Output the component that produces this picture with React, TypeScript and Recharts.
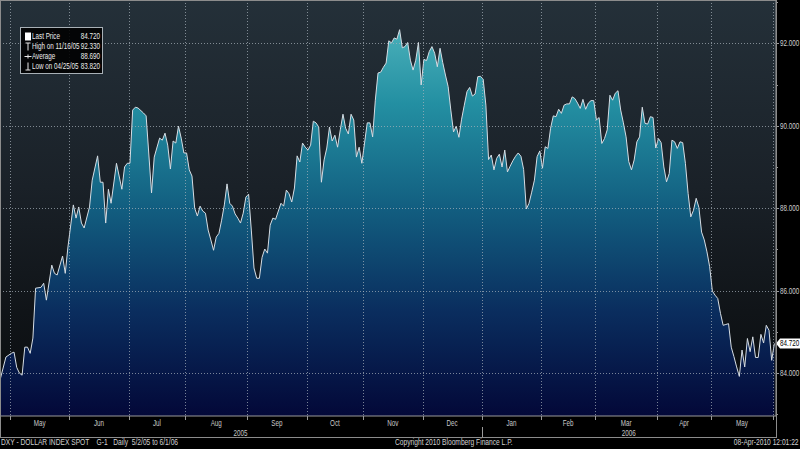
import React from "react";
import { ComposedChart, Area, XAxis, YAxis } from "recharts";

// ---- data (trading-day index from 2005-05-02 = 0) ----
const days = [
  -4, -2, 0, 1, 2, 3, 4, 5, 6, 7, 8, 9, 11, 12, 13, 15, 16, 17, 19, 20, 21, 23, 24, 25, 26, 27, 29, 30, 32, 33, 34, 35, 36,
  37, 39, 41, 42, 43, 44, 45, 46, 47, 49, 50, 52, 53, 55, 56, 57, 58, 59, 60, 61, 62, 63, 64, 65, 66, 67, 68, 69, 70, 71,
  72, 73, 74, 75, 76, 77, 78, 79, 80, 81, 82, 83, 84, 85, 86, 87, 88, 89, 90, 91, 92, 93, 94, 95, 96, 97, 98, 100, 101,
  102, 103, 104, 105, 106, 107, 108, 109, 110, 111, 112, 113, 114, 115, 116, 117, 118, 119, 120, 121, 122, 123, 124,
  125, 126, 127, 128, 129, 130, 131, 132, 133, 134, 135, 136, 137, 138, 139, 140, 141, 142, 143, 144, 145, 146, 147,
  148, 149, 150, 151, 152, 153, 154, 155, 156, 157, 158, 159, 160, 161, 162, 163, 164, 165, 166, 167, 168, 169, 170,
  171, 172, 173, 174, 175, 176, 177, 178, 179, 180, 181, 182, 183, 184, 185, 186, 187, 188, 189, 190, 191, 192, 193,
  194, 195, 196, 197, 198, 199, 200, 201, 202, 203, 204, 205, 206, 207, 208, 209, 210, 211, 212, 213, 214, 215, 216,
  217, 218, 219, 220, 221, 222, 223, 224, 225, 226, 227, 228, 229, 230, 231, 232, 233, 234, 235, 236, 237, 238, 239,
  240, 241, 242, 243, 244, 245, 246, 247, 248, 249, 250, 251, 252, 253, 254, 255, 256, 257, 258, 259, 260, 261, 262,
  263, 264, 265, 266, 267, 268, 269, 270, 271, 272, 273, 274, 275, 276, 277, 278, 279, 280, 281, 282, 283,
];

const prices = [
  83.88, 84.39, 84.48, 84.51, 84.14, 84.0, 83.95, 84.63, 84.63, 84.48, 84.85, 86.06, 86.08, 86.18, 85.77, 86.62, 86.42,
  86.38, 86.84, 86.42, 87.06, 88.08, 87.76, 88.03, 87.64, 87.52, 88.03, 88.68, 89.27, 88.63, 88.63, 87.64, 88.46, 88.12,
  89.09, 88.46, 89.0, 89.09, 89.09, 90.38, 90.45, 90.43, 90.31, 90.24, 88.37, 89.24, 89.7, 89.65, 89.82, 89.53, 88.95,
  89.63, 89.58, 89.99, 89.7, 89.34, 89.34, 88.93, 88.78, 88.0, 87.81, 88.05, 87.93, 87.88, 87.47, 87.23, 86.98, 87.3,
  87.39, 87.71, 88.08, 88.59, 88.12, 88.05, 87.86, 87.76, 87.64, 87.88, 88.27, 88.34, 87.47, 86.55, 86.3, 86.3, 86.81,
  87.01, 86.91, 87.59, 87.76, 87.73, 88.12, 88.05, 88.44, 88.35, 88.15, 88.49, 89.27, 89.12, 89.58, 89.48, 89.41, 89.53,
  90.11, 90.07, 89.97, 88.63, 89.17, 89.46, 89.97, 89.63, 89.77, 89.48, 89.9, 90.28, 89.94, 89.8, 90.28, 90.14, 89.24,
  89.48, 89.09, 89.58, 90.07, 90.07, 89.73, 90.62, 91.28, 91.3, 91.42, 91.52, 92.06, 92.01, 92.13, 92.1, 92.33, 91.89,
  91.92, 92.02, 91.59, 91.35, 91.59, 92.02, 90.99, 91.61, 91.58, 91.8, 91.92, 91.76, 91.43, 91.88, 91.53, 91.23, 90.95,
  90.38, 89.85, 89.99, 89.72, 90.16, 90.5, 90.83, 90.93, 90.72, 90.77, 91.19, 91.2, 91.13, 90.5, 89.18, 89.29, 88.93,
  89.21, 89.31, 89.0, 89.41, 88.88, 89.02, 89.15, 89.26, 89.34, 89.26, 88.94, 87.98, 88.12, 88.39, 88.68, 89.25, 89.39,
  88.97, 89.49, 89.45, 89.94, 90.24, 90.22, 90.4, 90.3, 90.5, 90.53, 90.53, 90.7, 90.66, 90.55, 90.42, 90.64, 90.4,
  90.55, 90.61, 90.61, 90.14, 90.2, 89.57, 89.69, 89.9, 90.74, 90.62, 90.79, 90.85, 90.38, 90.07, 89.73, 89.13, 88.93,
  89.17, 89.61, 89.73, 90.45, 90.06, 90.04, 90.22, 90.2, 89.46, 89.69, 89.59, 89.0, 88.64, 88.84, 89.65, 89.61, 89.45,
  89.61, 89.59, 89.09, 88.36, 87.79, 87.95, 88.24, 88.02, 87.42, 87.23, 86.94, 86.58, 85.99, 85.89, 85.81, 85.45, 85.16,
  85.18, 85.2, 84.63, 84.4, 84.15, 83.92, 84.56, 84.15, 84.84, 84.52, 84.88, 84.38, 84.38, 84.94, 84.73, 85.16, 85.04,
  84.31, 84.72,
];

// month boundaries (trading-day index) and labels
const monthStarts = [-0.5, 21.5, 43.5, 64.5, 87.5, 109.5, 130.5, 152.5, 174.5, 196.5, 216.5, 239.5, 259.5, 282.5];
const monthNames = ["May", "Jun", "Jul", "Aug", "Sep", "Oct", "Nov", "Dec", "Jan", "Feb", "Mar", "Apr", "May"];
const yearLabels = ["2005", "2006"];
const yearCenters = [85, 229];
const yearDivider = 174.5;

const priceTicks = [84, 86, 88, 90, 92];
const minorTicks = [83, 85, 87, 89, 91, 93];

const legendRows = [
  { icon: "last", label: "Last Price", value: "84.720" },
  { icon: "high", label: "High on 11/16/05", value: "92.330" },
  { icon: "avg", label: "Average", value: "88.690" },
  { icon: "low", label: "Low on 04/25/05", value: "83.820" },
];
const lastPrice = 84.72;

const footerLeft = "DXY - DOLLAR INDEX SPOT    G-1   Daily  5/2/05 to 6/1/06";
const footerCenter = "Copyright 2010 Bloomberg Finance L.P.";
const footerRight = "08-Apr-2010 12:01:22";

const X_DOMAIN: [number, number] = [-4.2, 283.6];
const Y_DOMAIN: [number, number] = [82.96, 93.05];

// layout
const CHART_W = 800;
const CHART_H = 449;
const Y_AXIS_W = 24;
const X_AXIS_H = [1, 11, 9];
const MARGIN = { top: 0, right: 0, bottom: 12, left: 0 };
const PLOT_W = CHART_W - Y_AXIS_W - MARGIN.left - MARGIN.right;
const PLOT_H = CHART_H - MARGIN.top - MARGIN.bottom - X_AXIS_H.reduce((a, b) => a + b, 0);

const FONT = "'Liberation Sans', Arial, sans-serif";
const SQUEEZE = 0.74;
const GRID = { stroke: "#aab4bc", opacity: 0.7, dash: "1 2" };

const data = days.map((d, i) => ({ day: d, price: prices[i] }));
const monthMids = monthStarts.slice(0, -1).map((s, i) => (s + monthStarts[i + 1]) / 2);

const NarrowText = ({ x, y, anchor = "start", size = 8, fill = "#d0d0d0", children }: any) => (
  <text
    transform={`translate(${x},${y}) scale(${SQUEEZE},1)`}
    textAnchor={anchor}
    fontSize={size}
    fill={fill}
    fontFamily={FONT}
  >
    {children}
  </text>
);

// month boundary: dotted vertical grid line across the plot + small tick below
const BoundaryTick = (props: any) => {
  const { x, y } = props;
  const cx = Math.round(x) + 0.5;
  return (
    <g>
      <line
        x1={cx}
        x2={cx}
        y1={y - PLOT_H}
        y2={y}
        stroke={GRID.stroke}
        strokeOpacity={GRID.opacity}
        strokeDasharray={GRID.dash}
      />
      <line x1={cx} x2={cx} y1={y} y2={y + 4} stroke="#9a9a9a" strokeWidth={1} />
    </g>
  );
};

const MonthTick = (props: any) => {
  const { x, y, index } = props;
  return (
    <NarrowText x={x} y={y + 9} anchor="middle" size={8.5} fill="#c8c8c8">
      {monthNames[index]}
    </NarrowText>
  );
};

const YearTick = (props: any) => {
  const { x, y, payload } = props;
  if (payload.value === yearDivider) {
    const cx = Math.round(x) + 0.5;
    return <line x1={cx} x2={cx} y1={y - 1} y2={y + 9} stroke="#9a9a9a" strokeWidth={1} />;
  }
  const idx = yearCenters.indexOf(payload.value);
  return (
    <NarrowText x={x} y={y + 7.5} anchor="middle" size={8.5} fill="#c8c8c8">
      {yearLabels[idx]}
    </NarrowText>
  );
};

const PriceTick = (props: any) => {
  const { x, y, payload } = props;
  const v = payload.value;
  if (v === lastPrice) {
    return (
      <g>
        <polygon
          points={`${x},${y} ${x + 4},${y - 5} ${x + 24},${y - 5} ${x + 24},${y + 5} ${x + 4},${y + 5}`}
          fill="#ffffff"
        />
        <NarrowText x={x + 4} y={y + 3} size={8.5} fill="#000">
          {v.toFixed(3)}
        </NarrowText>
      </g>
    );
  }
  const major = priceTicks.includes(v);
  const cy = Math.round(y) + 0.5;
  return (
    <g>
      {major && (
        <line
          x1={x - PLOT_W}
          x2={x}
          y1={cy}
          y2={cy}
          stroke={GRID.stroke}
          strokeOpacity={GRID.opacity}
          strokeDasharray={GRID.dash}
        />
      )}
      <line x1={x} x2={x + (major ? 3 : 2)} y1={cy} y2={cy} stroke="#9a9a9a" strokeWidth={1} />
      {major && (
        <NarrowText x={x + 4} y={y + 3} size={8.5} fill="#d0d0d0">
          {v.toFixed(3)}
        </NarrowText>
      )}
    </g>
  );
};

const LegendIcon = ({ kind }: { kind: string }) => {
  const c = "#e8e8e8";
  return (
    <svg width={8} height={9} style={{ display: "block" }}>
      {kind === "last" && <rect x={1} y={0.5} width={6} height={8} fill="#ffffff" />}
      {kind === "high" && (
        <g stroke={c} strokeWidth={1}>
          <line x1={1.5} x2={6.5} y1={1} y2={1} />
          <line x1={4} x2={4} y1={1} y2={8.5} />
        </g>
      )}
      {kind === "avg" && (
        <g stroke={c} strokeWidth={1}>
          <line x1={0.5} x2={7.5} y1={4.5} y2={4.5} />
          <line x1={4} x2={4} y1={2.5} y2={6.5} />
        </g>
      )}
      {kind === "low" && (
        <g stroke={c} strokeWidth={1}>
          <line x1={4} x2={4} y1={0.5} y2={8} />
          <line x1={1.5} x2={6.5} y1={8} y2={8} />
        </g>
      )}
    </svg>
  );
};

const squeezeSpan = (origin: string): React.CSSProperties => ({
  display: "inline-block",
  transform: `scaleX(${SQUEEZE})`,
  transformOrigin: origin,
  whiteSpace: "pre",
});

export default function App() {
  return (
    <div
      style={{
        position: "fixed",
        left: 0,
        top: 0,
        width: CHART_W,
        height: CHART_H,
        background: "#000",
        overflow: "hidden",
        fontFamily: FONT,
      }}
    >
      {/* plot background */}
      <div
        style={{
          position: "absolute",
          left: MARGIN.left,
          top: MARGIN.top,
          width: PLOT_W,
          height: PLOT_H,
          background: "linear-gradient(180deg, #243039 0%, #1a2128 45%, #101418 75%, #0a0c0e 100%)",
        }}
      />

      <div style={{ position: "absolute", left: 0, top: 0 }}>
        <ComposedChart width={CHART_W} height={CHART_H} data={data} margin={MARGIN}>
          <defs>
            <linearGradient id="areaGrad" gradientUnits="userSpaceOnUse" x1={0} y1={0} x2={0} y2={PLOT_H}>
              <stop offset="0%" stopColor="#58bcc2" />
              <stop offset="25%" stopColor="#238fa2" />
              <stop offset="50%" stopColor="#125e80" />
              <stop offset="75%" stopColor="#0a2d5e" />
              <stop offset="100%" stopColor="#030838" />
            </linearGradient>
          </defs>
          <XAxis
            xAxisId="b"
            dataKey="day"
            type="number"
            domain={X_DOMAIN}
            allowDataOverflow
            ticks={monthStarts}
            interval={0}
            height={X_AXIS_H[0]}
            tickSize={0}
            tickMargin={0}
            tickLine={false}
            axisLine={{ stroke: "#9a9a9a" }}
            tick={<BoundaryTick />}
          />
          <XAxis
            xAxisId="m"
            dataKey="day"
            type="number"
            domain={X_DOMAIN}
            allowDataOverflow
            ticks={monthMids}
            interval={0}
            height={X_AXIS_H[1]}
            tickSize={0}
            tickMargin={0}
            tickLine={false}
            axisLine={false}
            tick={<MonthTick />}
          />
          <XAxis
            xAxisId="y"
            dataKey="day"
            type="number"
            domain={X_DOMAIN}
            allowDataOverflow
            ticks={[yearCenters[0], yearDivider, yearCenters[1]]}
            interval={0}
            height={X_AXIS_H[2]}
            tickSize={0}
            tickMargin={0}
            tickLine={false}
            axisLine={false}
            tick={<YearTick />}
          />
          <YAxis
            yAxisId="p"
            orientation="right"
            width={Y_AXIS_W}
            domain={Y_DOMAIN}
            allowDataOverflow
            ticks={[...minorTicks, ...priceTicks, lastPrice].sort((a, b) => a - b)}
            interval={0}
            tickSize={0}
            tickMargin={0}
            tickLine={false}
            axisLine={{ stroke: "#9a9a9a" }}
            tick={<PriceTick />}
          />
          <Area
            xAxisId="b"
            yAxisId="p"
            dataKey="price"
            type="linear"
            stroke="#d6dde4"
            strokeWidth={1}
            fill="url(#areaGrad)"
            fillOpacity={1}
            baseValue={Y_DOMAIN[0]}
            dot={false}
            activeDot={false}
            isAnimationActive={false}
          />
        </ComposedChart>
      </div>

      {/* frame */}
      <div
        style={{
          position: "absolute",
          left: 0,
          top: 0,
          width: PLOT_W - 1,
          height: 436,
          border: "1px solid #8c8c8c",
          pointerEvents: "none",
        }}
      />

      {/* legend box */}
      <div
        style={{
          position: "absolute",
          left: 20,
          top: 27,
          width: 81,
          height: 45,
          background: "rgba(0,0,0,0.88)",
          border: "1px solid #a8b0b6",
          color: "#ececec",
          fontSize: 8.5,
        }}
      >
        {legendRows.map((r, i) => (
          <div key={r.label} style={{ position: "absolute", left: 0, top: 3 + i * 10, width: 81, height: 10 }}>
            <div style={{ position: "absolute", left: 3, top: 0.5 }}>
              <LegendIcon kind={r.icon} />
            </div>
            <div style={{ position: "absolute", left: 11, top: 0, lineHeight: "10px" }}>
              <span style={squeezeSpan("left")}>{r.label}</span>
            </div>
            <div style={{ position: "absolute", right: 2, top: 0, lineHeight: "10px" }}>
              <span style={squeezeSpan("right")}>{r.value}</span>
            </div>
          </div>
        ))}
      </div>

      {/* footer */}
      <div style={{ position: "absolute", left: 1, top: 437, fontSize: 9, lineHeight: "11px", color: "#d2d2d2" }}>
        <span style={squeezeSpan("left")}>{footerLeft}</span>
      </div>
      <div style={{ position: "absolute", left: 395, top: 437, fontSize: 9, lineHeight: "11px", color: "#d2d2d2" }}>
        <span style={squeezeSpan("left")}>{footerCenter}</span>
      </div>
      <div style={{ position: "absolute", right: 1, top: 437, fontSize: 9, lineHeight: "11px", color: "#d2d2d2" }}>
        <span style={squeezeSpan("right")}>{footerRight}</span>
      </div>
    </div>
  );
}
